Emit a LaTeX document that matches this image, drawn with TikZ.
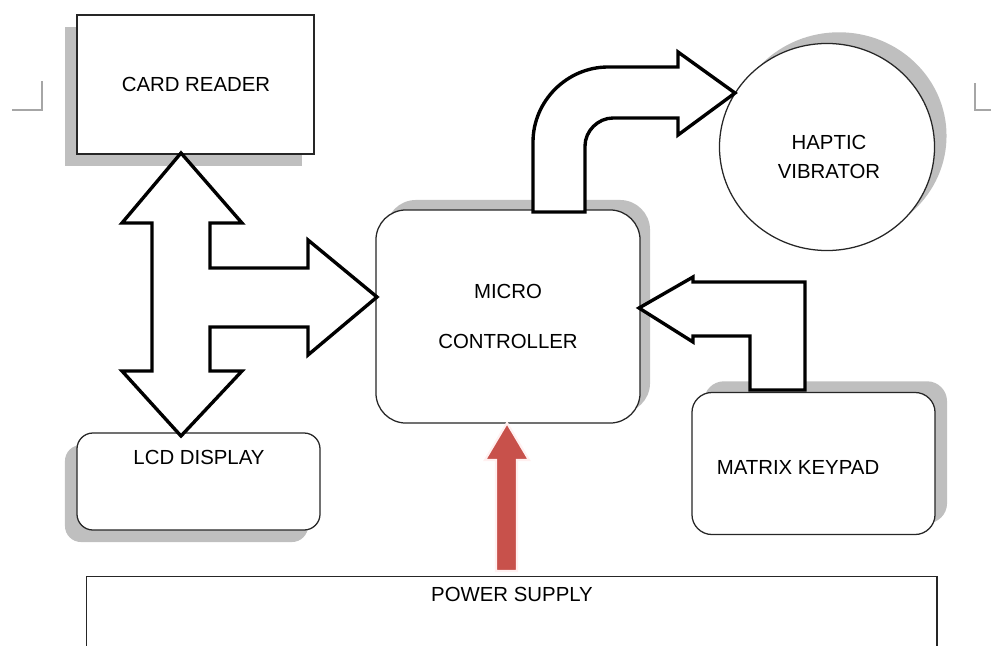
\documentclass[tikz,border=0pt]{standalone}
\usepackage{fontspec}
\setmainfont{Liberation Sans}
\usetikzlibrary{shapes.geometric,shadows,positioning,calc}
\definecolor{pwrred}{HTML}{C8514B}

\begin{document}
\begin{tikzpicture}[
    x=0.025cm, y=-0.025cm,
    font=\fontsize{14.5}{17}\selectfont,
    block/.style={rectangle, draw=black!85, fill=white, line width=0.9pt, inner sep=0pt},
    rblock/.style={block, rounded corners=#1},
    shade/.style 2 args={drop shadow={shadow xshift=#1, shadow yshift=#2, opacity=1, fill=black!25}},
    bigarrow/.style={draw=black, fill=white, line width=2.4pt, line join=miter, miter limit=4},
    powerarrow/.style={draw=red!6, fill=pwrred, line width=1.5pt},
    cornermark/.style={draw=black!35, line width=0.8pt},
    txt/.style={inner sep=0pt, align=center}
]
    \clip (0,0) rectangle (991,645);

    % page corner marks
    \draw[cornermark] (12,110) -- (42,110) -- (42,81);
    \draw[cornermark] (991,110) -- (975,110) -- (975,83);

    % Blocks
    \node[block, shade={-0.3cm}{-0.3cm}, minimum width=5.925cm, minimum height=3.475cm] (card) at (195.5,84.5) {};
    \node[txt] (cardtxt) at (196,84) {CARD READER};

    \node[rblock=0.75cm, shade={0.25cm}{0.25cm}, minimum width=6.6cm, minimum height=5.325cm, align=center,
          font=\fontsize{14.5}{36}\selectfont] (mcu) at (508,316.5) {MICRO\\CONTROLLER};

    \node[ellipse, draw=black!85, fill=white, line width=0.9pt, shade={0.3cm}{0.28cm},
          minimum width=5.375cm, minimum height=5.175cm] (haptic) at (827,147) {};
    \node[txt, font=\fontsize{14.5}{21}\selectfont] (haptxt) at (829,157) {HAPTIC\\VIBRATOR};

    \node[rblock=0.5cm, shade={0.3cm}{0.28cm}, minimum width=6.075cm, minimum height=3.55cm] (keypad) at (813.5,463.5) {};
    \node[txt] (keytxt) at (798,467) {MATRIX KEYPAD};

    \node[rblock=0.4cm, shade={-0.3cm}{-0.3cm}, minimum width=6.075cm, minimum height=2.425cm] (lcd) at (198.5,481.5) {};
    \node[txt] (lcdtxt) at (199,457) {LCD DISPLAY};

    \node[block, anchor=north west, minimum width=21.25cm, minimum height=2.5cm] (psu) at (86,576) {};
    \node[txt] (psutxt) at (512,594) {POWER SUPPLY};

    % card reader <-> lcd, branch into mcu
    \draw[bigarrow] (181,153) -- (242,223) -- (210,223) -- (210,268) -- (308,268) -- (308,240)
        -- (377,297) -- (308,355) -- (308,327) -- (210,327) -- (210,371) -- (242,371)
        -- (181,436) -- (122,371) -- (152,371) -- (152,223) -- (122,223) -- cycle;

    % mcu -> haptic vibrator
    \draw[bigarrow] (533,212) -- (533,142) .. controls (533,101) and (567,67) .. (608,67)
        -- (678,67) -- (678,52) -- (735,93) -- (678,135) -- (678,118) -- (613,118)
        .. controls (598,118) and (585,131) .. (585,146) -- (585,212) -- cycle;

    % keypad -> mcu
    \draw[bigarrow] (639,308) -- (693,277) -- (693,282) -- (805,282) -- (805,390)
        -- (750,390) -- (750,336) -- (693,336) -- (693,342) -- cycle;

    % power supply -> mcu
    \draw[powerarrow] (507,423) -- (529,460) -- (517,460) -- (517,571) -- (496,571)
        -- (496,460) -- (485,460) -- cycle;

\end{tikzpicture}
\end{document}
